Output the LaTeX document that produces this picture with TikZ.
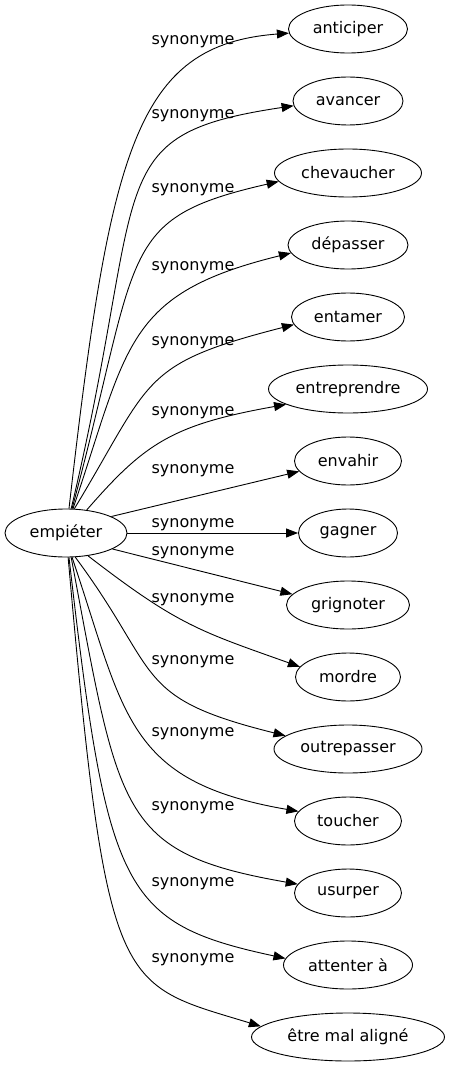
\documentclass[tikz,border=0pt]{standalone}
\usepackage{fontspec}
\setmainfont{DejaVu Sans}
\usetikzlibrary{shapes.geometric,arrows.meta}

\tikzset{
  word/.style={ellipse, draw, line width=0.9pt, inner sep=0pt, minimum height=48pt, font=\fontsize{16}{19}\selectfont},
  rel/.style={anchor=base, inner sep=0pt, font=\fontsize{16}{19}\selectfont},
  >={Triangle[length=12pt,width=9pt]},
}

\begin{document}
\begin{tikzpicture}[x=1pt,y=-1pt,line width=0.9pt]
\useasboundingbox (0,0) rectangle (449,1067);

\node[word, minimum width=122] (emp) at (66,533) {empiéter};

\node[word, minimum width=119] (ant) at (348,29) {anticiper};
\node[word, minimum width=110] (ava) at (348,101) {avancer};
\node[word, minimum width=147] (che) at (348,173) {chevaucher};
\node[word, minimum width=120] (dep) at (348,245) {dépasser};
\node[word, minimum width=113] (ent) at (348,317) {entamer};
\node[word, minimum width=159] (entr) at (348,389) {entreprendre};
\node[word, minimum width=107] (env) at (348,461) {envahir};
\node[word, minimum width=99] (gag) at (348,533) {gagner};
\node[word, minimum width=123] (gri) at (348,605) {grignoter};
\node[word, minimum width=105] (mor) at (348,677) {mordre};
\node[word, minimum width=148] (out) at (348,749) {outrepasser};
\node[word, minimum width=107] (tou) at (348,821) {toucher};
\node[word, minimum width=107] (usu) at (348,893) {usurper};
\node[word, minimum width=129] (att) at (348,965) {attenter à};
\node[word, minimum width=193] (etr) at (348,1037) {être mal aligné};

% edges
\path[->,draw] (emp.83) .. controls (110,150) and (135,45) .. (ant.184);
\path[->,draw] (emp.78) .. controls (149.5,179.7) and (97,135) .. (ava.185);
\path[->,draw] (emp.76) .. controls (141.6,249.5) and (115.4,218.8) .. (che.187);
\path[->,draw] (emp.74) .. controls (128.4,345.5) and (124,293.9) .. (dep.188);
\path[->,draw] (emp.71) .. controls (152.7,379.1) and (139,364.3) .. (ent.188);
\path[->,draw] (emp.48) .. controls (144.6,443.5) and (171.7,424.8) .. (entr.194);
\path[->,draw] (emp.20) -- (env.192);
\path[->,draw] (emp.east) -- (gag.west);
\path[->,draw] (emp.341) -- (gri.169);
\path[->,draw] (emp.314) .. controls (177.9,625.3) and (200.1,631.3) .. (mor.168);
\path[->,draw] (emp.291) .. controls (162.3,674.3) and (131.1,697.4) .. (out.168);
\path[->,draw] (emp.284) .. controls (125.2,714.5) and (125.1,781.5) .. (tou.169);
\path[->,draw] (emp.282) .. controls (119.5,813.4) and (118.1,852.9) .. (usu.170);
\path[->,draw] (emp.277) .. controls (107.5,892) and (121.6,923) .. (att.174);
\path[->,draw] (emp.275) .. controls (106.8,996.3) and (117.5,982.6) .. (etr.173);

% labels
\node[rel] (s1) at (193,45) {synonyme};
\node[rel] (s2) at (193,119) {synonyme};
\node[rel] (s3) at (193,193) {synonyme};
\node[rel] (s4) at (193,270) {synonyme};
\node[rel] (s5) at (193,345) {synonyme};
\node[rel] (s6) at (193,415) {synonyme};
\node[rel] (s7) at (193,473) {synonyme};
\node[rel] (s8) at (193,527) {synonyme};
\node[rel] (s9) at (193,555) {synonyme};
\node[rel] (s10) at (193,602) {synonyme};
\node[rel] (s11) at (193,664) {synonyme};
\node[rel] (s12) at (193,736) {synonyme};
\node[rel] (s13) at (193,810) {synonyme};
\node[rel] (s14) at (193,886) {synonyme};
\node[rel] (s15) at (193,962) {synonyme};
\end{tikzpicture}
\end{document}
